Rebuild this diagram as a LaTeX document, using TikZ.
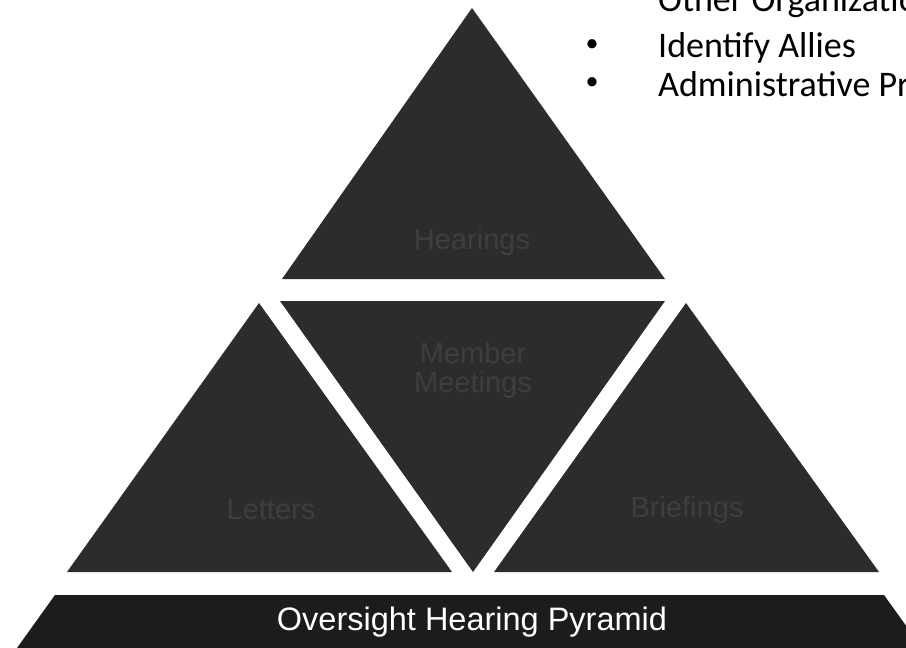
\documentclass[tikz,border=0pt]{standalone}
\usepackage{fontspec}
\setmainfont{Liberation Sans}
\newfontfamily\calfont{Carlito}
\definecolor{shade}{HTML}{2C2C2C}
\definecolor{labelgray}{HTML}{3E3E3E}
\definecolor{bannerfill}{HTML}{1C1C1C}
\tikzset{
  piece/.style={fill=shade},
  piecelabel/.style={text=labelgray, font=\fontsize{29}{33}\selectfont, align=center, inner sep=0pt},
  bullettext/.style={anchor=base west, font=\calfont\fontsize{36}{40}\selectfont, inner sep=0pt},
  bulletdot/.style={font=\calfont\fontsize{26}{30}\selectfont, inner sep=0pt}
}
\begin{document}
\begin{tikzpicture}[x=1pt,y=-1pt]
\useasboundingbox (0,0) rectangle (906,648);
\fill[white] (0,0) rectangle (906,648);
\begin{scope}
\clip (0,0) rectangle (906,648);
% top triangle
\fill[piece] (472,8) -- (665,279) -- (282,279) -- cycle;
% middle inverted triangle
\fill[piece] (280,301) -- (665,301) -- (473,572) -- cycle;
% left triangle
\fill[piece] (259,303) -- (452,572) -- (67,572) -- cycle;
% right triangle
\fill[piece] (686,303) -- (879,572) -- (494,572) -- cycle;
% banner
\fill[bannerfill] (55,595) -- (884,595) -- (922,648) -- (17,648) -- cycle;
\node[text=white, font=\fontsize{32.5}{38}\selectfont, inner sep=0pt] (banner) at (472,622) {Oversight Hearing Pyramid};
% labels
\node[piecelabel] (hearings) at (472,242) {Hearings};
\node[piecelabel] (member) at (473,370) {Member\\[-4pt]Meetings};
\node[piecelabel] (letters) at (271,510) {Letters};
\node[piecelabel] (briefings) at (687,510) {Briefings};
% bullet list
\node[bullettext] (b0) at (658,11) {Other Organizations};
\node[bulletdot] (d1) at (592,46) {•};
\node[bullettext] (b1) at (658,57) {Identify Allies};
\node[bulletdot] (d2) at (592,84) {•};
\node[bullettext] (b2) at (658,96) {Administrative Procedures};
\end{scope}
\end{tikzpicture}
\end{document}
